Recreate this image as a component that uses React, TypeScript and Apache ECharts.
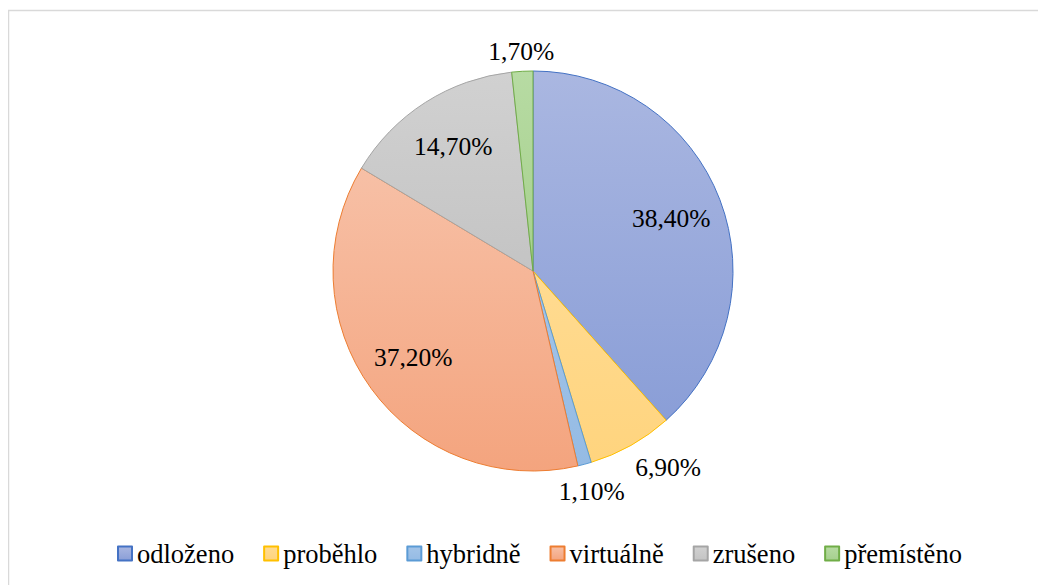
import React, { useEffect, useRef } from "react";
import * as echarts from "echarts";

const categories = ["odloženo", "proběhlo", "hybridně", "virtuálně", "zrušeno", "přemístěno"];
const values = [38.4, 6.9, 1.1, 37.2, 14.7, 1.7];

const fillTop = ["#aab7e1", "#ffdb91", "#a3c4e8", "#f7c0a6", "#d1d1d1", "#b7dba3"];
const fillBottom = ["#8a9ed7", "#ffd47e", "#95bbe4", "#f4a47e", "#c4c4c4", "#a6d08d"];
const borderColors = ["#4472c4", "#ffc000", "#5b9bd5", "#ed7d31", "#a5a5a5", "#70ad47"];

const FONT = "Times New Roman, Liberation Serif, DejaVu Serif, serif";

const fmt = (v: number) => v.toFixed(2).replace(".", ",") + "%";

export default function App() {
  const ref = useRef<HTMLDivElement>(null);
  useEffect(() => {
    if (!ref.current) return;
    const chart = echarts.init(ref.current, undefined, { renderer: "svg" });
    const center = [525, 263];
    const mainData = categories.map((name, i) => ({
      name,
      value: values[i],
      itemStyle: {
        color: new echarts.graphic.LinearGradient(0, 0, 0, 1, [
          { offset: 0, color: fillTop[i] },
          { offset: 1, color: fillBottom[i] },
        ]),
        borderColor: borderColors[i],
        borderWidth: 1,
      },
    }));
    const labelData = (idxs: number[]) =>
      categories.map((name, i) => ({
        name,
        value: values[i],
        label: { show: idxs.includes(i) },
      }));
    const labelSeries = (outerRadius: number, idxs: number[], outside = false) => ({
      type: "pie",
      center,
      radius: [0, outerRadius],
      startAngle: 90,
      silent: true,
      avoidLabelOverlap: false,
      minShowLabelAngle: 0,
      labelLayout: { hideOverlap: false },
      itemStyle: { color: "rgba(0,0,0,0)", borderWidth: 0 },
      labelLine: { show: false, length: 25, length2: 0 },
      emphasis: { disabled: true },
      label: {
        position: outside ? "outside" : "inside",
        distanceToLabelLine: -8,
        formatter: (p: any) => fmt(p.value),
        color: "#000",
        fontFamily: FONT,
        fontSize: 25.5,
      },
      data: labelData(idxs),
    });
    chart.setOption({
      animation: false,
      backgroundColor: "#fff",
      textStyle: { fontFamily: FONT },
      graphic: [
        {
          type: "rect",
          shape: { x: 0.5, y: 2.5, width: 1300, height: 900 },
          style: { fill: "none", stroke: "#d9d9d9", lineWidth: 1.5 },
          silent: true,
          z: 10,
        },
      ],
      legend: {
        data: categories,
        left: 109,
        top: 532,
        padding: 0,
        icon: "rect",
        itemWidth: 14,
        itemHeight: 14,
        itemGap: 29,
        textStyle: { fontFamily: FONT, fontSize: 26.5, color: "#000" },
        selectedMode: false,
      },
      series: [
        {
          type: "pie",
          center,
          radius: [0, 200],
          startAngle: 90,
          silent: true,
          label: { show: false },
          labelLine: { show: false },
          data: mainData,
        },
        labelSeries(290, [0, 3, 4]),
        labelSeries(200, [1], true),
        labelSeries(450, [2]),
        labelSeries(434, [5]),
      ],
    });
    return () => chart.dispose();
  }, []);
  return <div ref={ref} style={{ width: 1038, height: 577 }} />;
}
